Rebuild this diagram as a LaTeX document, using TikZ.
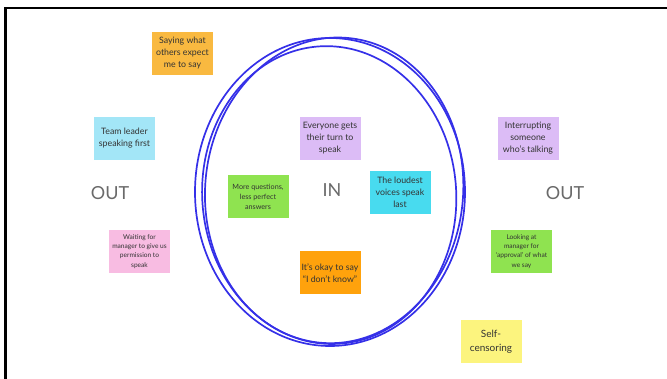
\documentclass[tikz,border=0pt]{standalone}
\usepackage{fontspec}
\setmainfont{Lato}
\usetikzlibrary{positioning}
\definecolor{textgray}{HTML}{333333}
\definecolor{zonegray}{HTML}{6A6A6A}
\definecolor{loopblue}{HTML}{3530E8}
\definecolor{noteorange}{HTML}{F9B940}
\definecolor{notedeeporange}{HTML}{FFA20C}
\definecolor{notecyan}{HTML}{A3E6F7}
\definecolor{notedeepcyan}{HTML}{48DBEF}
\definecolor{notepink}{HTML}{F8BCE2}
\definecolor{notegreen}{HTML}{8FE350}
\definecolor{notelilac}{HTML}{DCBCF6}
\definecolor{noteyellow}{HTML}{FCF47E}

\begin{document}
\begin{tikzpicture}[x=1pt,y=-1pt,
    note/.style={minimum width=61pt,minimum height=43pt,inner sep=1pt,
      align=center,text=textgray,font=\fontsize{8.8}{12}\selectfont},
    smallnote/.style={note,font=\fontsize{6.6}{9.2}\selectfont},
    zone/.style={text=zonegray,font=\fontsize{18}{20}\selectfont},
    loop/.style={draw=loopblue,line width=1.7pt}]
  \useasboundingbox (0,0) rectangle (667,379);
  \draw[line width=2.5pt] (5.5,379) -- (5.5,8) -- (667,8);
  % the circle, drawn by hand three times
  \draw[loop] (330,192) ellipse [x radius=135,y radius=154];
  \draw[loop,rotate around={-5:(330,192)}] (334,190) ellipse [x radius=129,y radius=153];
  \draw[loop,rotate around={4:(330,192)}] (329,195) ellipse [x radius=127,y radius=149];
  % zone labels
  \node[zone] (outleft) at (110,193) {OUT};
  \node[zone] (in) at (332,190) {IN};
  \node[zone] (outright) at (565,193) {OUT};
  % notes outside
  \node[note,fill=noteorange] (saying) at (182.5,53.5) {Saying what\\others expect\\me to say};
  \node[note,fill=notecyan] (leader) at (124.5,138.5) {Team leader\\speaking first};
  \node[smallnote,fill=notepink] (waiting) at (139.5,251.5) {Waiting for\\manager to give us\\permission to\\speak};
  \node[note,fill=notelilac] (interrupt) at (528,138.5) {Interrupting\\someone\\who's talking};
  \node[smallnote,fill=notegreen] (looking) at (521.5,251.5) {Looking at\\manager for\\`approval' of what\\we say};
  \node[note,fill=noteyellow,font=\fontsize{10}{14}\selectfont] (selfcens) at (491,342) {Self-\\censoring};
  % notes inside
  \node[note,fill=notelilac] (turn) at (330,138.5) {Everyone gets\\their turn to\\speak};
  \node[smallnote,fill=notegreen,font=\fontsize{7.2}{10}\selectfont] (questions) at (258,196.5) {More questions,\\less perfect\\answers};
  \node[note,fill=notedeepcyan] (loudest) at (400,192.5) {The loudest\\voices speak\\last};
  \node[note,fill=notedeeporange] (dontknow) at (330,273) {It's okay to say\\``I don't know''};
\end{tikzpicture}
\end{document}
